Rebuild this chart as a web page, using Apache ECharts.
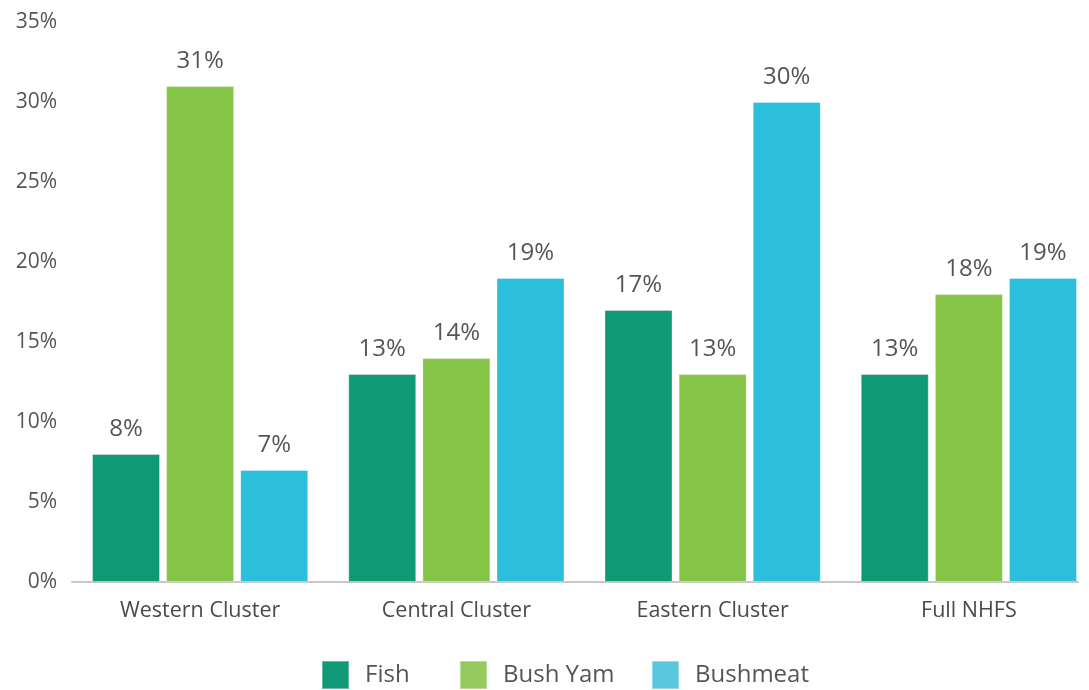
<!DOCTYPE html>
<html>
<head>
<meta charset="utf-8">
<script src="https://cdn.jsdelivr.net/npm/echarts@6/dist/echarts.min.js"></script>
<style>html,body{margin:0;padding:0;background:#fff}#c{width:1089px;height:690px}</style>
</head>
<body>
<div id="c"></div>
<script>
const categories = ['Western Cluster', 'Central Cluster', 'Eastern Cluster', 'Full NHFS'];
const seriesNames = ['Fish', 'Bush Yam', 'Bushmeat'];
const fish = [8, 13, 17, 13];
const bushYam = [31, 14, 13, 18];
const bushmeat = [7, 19, 30, 19];
const yTicks = [0, 5, 10, 15, 20, 25, 30, 35];

const colors = ['#0f9977', '#85c447', '#2bbfdb'];
const legendColors = ['#0f9977', '#95cb5c', '#5bc7df'];
const legendLefts = [321, 459, 651];
const values = [fish, bushYam, bushmeat];
const FONT = 'Open Sans';

const chart = echarts.init(document.getElementById('c'));
chart.setOption({
  animation: false,
  grid: [
    { left: 72, width: 1025, top: 22, bottom: 108, outerBoundsMode: 'none', containLabel: false },
    { left: 72, right: 11, top: 22, bottom: 108, outerBoundsMode: 'none', containLabel: false }
  ],
  legend: seriesNames.map((n, i) => ({
    bottom: 0,
    left: legendLefts[i],
    padding: 0,
    itemWidth: 27,
    itemHeight: 28,
    icon: 'rect',
    textStyle: { fontSize: 24, color: '#555', fontFamily: FONT, padding: [0, 0, 0, 11] },
    data: [{ name: n, itemStyle: { color: legendColors[i] } }]
  })),
  xAxis: [{
    type: 'category',
    gridIndex: 0,
    data: categories,
    axisLine: { show: false },
    axisTick: { show: false },
    axisLabel: { fontSize: 21.5, color: '#4a4a4a', margin: 18, fontFamily: FONT }
  }, {
    type: 'value',
    gridIndex: 1,
    min: 0, max: 1,
    axisLine: { show: true, lineStyle: { color: '#c8c8c8', width: 2 } },
    axisTick: { show: false },
    axisLabel: { show: false },
    splitLine: { show: false }
  }],
  yAxis: [{
    type: 'value',
    gridIndex: 0,
    min: 0, max: 35, interval: 5,
    splitLine: { show: false },
    axisLine: { show: false },
    axisTick: { show: false },
    axisLabel: { fontSize: 21, color: '#555', margin: 15, fontFamily: FONT, formatter: v => v + '%' }
  }, {
    type: 'value',
    gridIndex: 1,
    show: false
  }],
  series: seriesNames.map((n, i) => ({
    name: n,
    type: 'bar',
    data: values[i],
    barWidth: 68,
    barGap: '9%',
    z: 3,
    itemStyle: { color: colors[i], borderColor: 'rgba(255,255,255,0.35)', borderWidth: 1 },
    label: {
      show: true, position: 'top', distance: 13,
      fontSize: 24, color: '#555', fontFamily: FONT,
      formatter: p => p.value + '%'
    }
  }))
});
</script>
</body>
</html>
